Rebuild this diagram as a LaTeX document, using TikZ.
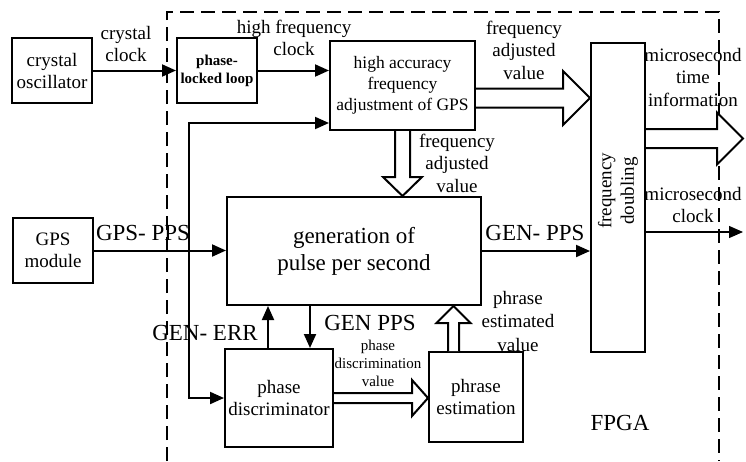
\documentclass[tikz,border=0pt]{standalone}
\usepackage{fontspec}
\setmainfont{Liberation Serif}
\usetikzlibrary{arrows.meta,calc}

% wide hollow arrow: start, end, shaft half width, head half width, head length
\newcommand{\hollowarrow}[5]{%
  \path (#1) coordinate (ha-s) (#2) coordinate (ha-e);
  \path ($(ha-e)!#5!(ha-s)$) coordinate (ha-b);
  \draw[fat] ($(ha-s)!#3!90:(ha-e)$) -- ($(ha-b)!#3!90:(ha-e)$) -- ($(ha-b)!#4!90:(ha-e)$)
    -- (ha-e) -- ($(ha-b)!#4!-90:(ha-e)$) -- ($(ha-b)!#3!-90:(ha-e)$) -- ($(ha-s)!#3!-90:(ha-e)$);
}

\begin{document}
\begin{tikzpicture}[x=1pt,y=-1pt,
  box/.style={draw, line width=2pt, inner sep=0pt, align=center, font=\fontsize{19}{22}\selectfont},
  lbl/.style={align=center, inner sep=0pt, font=\fontsize{19}{22.5}\selectfont},
  biglbl/.style={inner sep=0pt, font=\fontsize{23}{27}\selectfont},
  conn/.style={line width=2pt, -{Triangle[length=14pt,width=12pt]}},
  fat/.style={draw, line width=2pt, fill=white, line join=miter},
  frame/.style={line width=2pt, dash pattern=on 14pt off 7pt}]
\useasboundingbox (0,0) rectangle (746,461);

% FPGA frame
\draw[frame] (167,461) -- (167,12) -- (719,12) -- (719,461);

% blocks
\node[box, minimum width=80pt, minimum height=65pt] (osc) at (52,70.5) {crystal\\oscillator};
\node[box, minimum width=80pt, minimum height=65pt, font=\bfseries\fontsize{15}{18}\selectfont] (pll) at (217,70.5) {phase-\\locked loop};
\node[box, minimum width=145pt, minimum height=89pt, font=\fontsize{17.5}{21}\selectfont] (haf) at (402.5,85.5) {high accuracy\\frequency\\adjustment of GPS};
\node[box, minimum width=80pt, minimum height=65pt] (gps) at (53,250.5) {GPS\\module};
\node[box, minimum width=254pt, minimum height=108pt, font=\fontsize{23}{27}\selectfont] (gen) at (354,251) {generation of\\pulse per second};
\node[box, minimum width=108pt, minimum height=98pt] (pd) at (279,398) {phase\\discriminator};
\node[box, minimum width=94pt, minimum height=90pt] (pe) at (476,397) {phrase\\estimation};
\node[box, minimum width=54pt, minimum height=309pt] (fd) at (618,197.5) {};
\node[lbl, rotate=90] (fdtext) at (618,191) {frequency\\doubling};

% connectors
\coordinate (split) at (189,250.5);
\coordinate (clkout) at (743,232);
\coordinate (timeout) at (743,138.5);
\draw[conn] (osc.east) -- (pll.west);
\draw[conn] (pll.east) -- (pll.east -| haf.west);
\draw[conn] (gps.east) -- (gps.east -| gen.west);
\draw[conn] (split) |- (haf.west |- 0,123);
\draw[conn] (split) |- (pd.west);
\draw[conn] (gen.east) -- (gen.east -| fd.west);
\draw[conn] (pd.north -| 268,0) -- (gen.south -| 268,0);
\draw[conn] (gen.south -| 310,0) -- (pd.north -| 310,0);
\draw[conn, line width=1.3pt] (fd.east |- clkout) -- (clkout);

\hollowarrow{haf.east |- 0,98}{fd.west |- 0,98}{9.5pt}{27pt}{27pt}
\hollowarrow{haf.south}{haf.south |- gen.north}{7.5pt}{19.5pt}{19pt}
\hollowarrow{pd.east |- 0,398}{pe.west |- 0,398}{5pt}{18pt}{16pt}
\hollowarrow{pe.north -| 453.5,0}{gen.south -| 453.5,0}{5.5pt}{17pt}{17pt}
\hollowarrow{fd.east |- timeout}{timeout}{9.5pt}{26pt}{26pt}

% labels
\node[lbl] (lcc) at (126,44) {crystal\\clock};
\node[lbl] (lhfc) at (294,38) {high frequency\\clock};
\node[lbl] (lfav) at (524,50) {frequency\\adjusted\\value};
\node[lbl] (lfavd) at (457,163) {frequency\\adjusted\\value};
\node[lbl] (lmti) at (693,77) {microsecond\\time\\information};
\node[lbl] (lmc) at (693,205) {microsecond\\clock};
\node[biglbl] (lgps) at (143,233) {GPS- PPS};
\node[biglbl] (lgen) at (535,233) {GEN- PPS};
\node[biglbl] (lerr) at (205,333) {GEN- ERR};
\node[biglbl] (lpps) at (370,323) {GEN PPS};
\node[lbl, font=\fontsize{15}{18}\selectfont] (lpdv) at (378,363) {phase\\discrimination\\value};
\node[lbl, font=\fontsize{19}{23.5}\selectfont] (lpev) at (518,321) {phrase\\estimated\\value};
\node[biglbl] (lfpga) at (620,423) {FPGA};
\end{tikzpicture}
\end{document}
